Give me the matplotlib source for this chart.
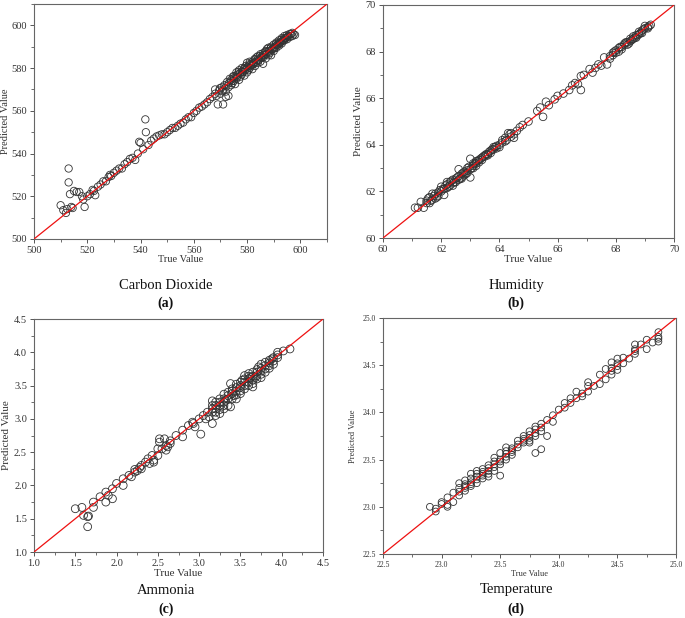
import matplotlib
matplotlib.use("Agg")
import matplotlib.pyplot as plt
from matplotlib.ticker import MultipleLocator
import numpy as np

plt.rcParams['font.family'] = ['Liberation Serif', 'DejaVu Serif']

# (true, predicted) pairs
co2_pairs = [
    (510, 515.8), (511, 513.5), (512, 512.2), (512.5, 514), (513, 533), (513, 526.5),
    (513.5, 521), (514, 515), (514.5, 514.5), (515, 522.5), (516, 522), (517, 522),
    (518, 520), (518.5, 518.5), (519, 515), (520, 520), (521, 521), (522, 523),
    (522.5, 522.5), (523, 520.5), (524, 524.5), (525, 525.5), (526, 527), (527, 527),
    (528, 529), (528.5, 530), (529, 529.5), (530, 531), (531, 532), (532, 533),
    (533, 533), (534, 535), (535, 536), (536, 537.5), (537, 538), (538, 537),
    (539, 540), (539.5, 545.5), (540, 545), (541, 542), (541.8, 556), (542, 550),
    (543, 544), (544, 546), (545, 547), (546, 548), (547, 548.5), (548, 549),
    (549, 549), (550, 550), (551, 551), (552, 552), (553, 552), (554, 553),
    (555, 554), (556, 554.5), (557, 556), (558, 557), (559, 557), (560, 559),
    (561, 560), (562, 561.5), (563, 562), (564, 563), (565, 564), (566, 565.5),
    (567, 566.5), (568, 568), (568, 570), (568.5, 567), (569, 563), (569.5, 569.5),
    (570, 568), (570.5, 571), (571, 563), (571, 570), (571.5, 572), (572, 566.5),
    (572, 569), (572.5, 573.5), (573, 567), (573, 571), (573.5, 575), (574, 572),
    (574.5, 573), (575, 576), (575, 574), (575.5, 572.5), (576, 578), (576, 575),
    (576.5, 577), (577, 579), (577, 574.5), (577.5, 576), (578, 580), (578, 577),
    (578.5, 578), (579, 576.5), (579, 580), (579.5, 581), (580, 578), (580, 582.5),
    (580.5, 579), (581, 580), (581, 583), (581.5, 581), (582, 579.5), (582, 583),
    (582.5, 582), (583, 584), (583, 581), (583.5, 585), (584, 582.5), (584, 585.5),
    (584.5, 584), (585, 583), (585, 586.5), (585.5, 585), (586, 587), (586, 582),
    (586.5, 586), (587, 588), (587, 584.5), (587.5, 589), (588, 586), (588, 589.5),
    (588.5, 587), (589, 590), (589, 586), (589.5, 589), (590, 591), (590, 588),
    (590.5, 590), (591, 592), (591, 589.5), (591.5, 591), (592, 593), (592, 590.5),
    (592.5, 592), (593, 594), (593, 591.5), (593.5, 593), (594, 595), (594, 593),
    (594.5, 594), (595, 595.5), (595, 593.5), (595.5, 595), (596, 596), (596, 594.5),
    (596.5, 596), (597, 596.5), (597, 595), (597.5, 595.8), (598, 595.5),
    (574, 574.5), (576, 576.5), (578, 578.5), (580, 580.5), (582, 581.5), (584, 584),
    (586, 585), (588, 588), (590, 589.5), (592, 592), (594, 594),
    (572.2, 571.5), (573.2, 573), (574.2, 573.8), (575.2, 575.3), (576.2, 575.8), (577.2, 577.5),
    (578.2, 578.1), (579.2, 579), (580.2, 579.8), (581.2, 581.5), (582.2, 582.3), (583.2, 582.8),
    (584.2, 583.5), (585.2, 584.8), (586.2, 586.3), (587.2, 586.5), (588.2, 587.6), (589.2, 588.5),
    (590.2, 589.2), (591.2, 590.8), (592.2, 591.5), (593.2, 592.6), (594.2, 593.8), (595.2, 594.6),
    (574.8, 576.2), (576.8, 578.2), (578.8, 579.6), (580.8, 581.8), (582.8, 584.2), (584.8, 585.6),
    (586.8, 587.6), (588.8, 589.2), (590.8, 591.3), (592.8, 593.2), (570.8, 569.2), (569.8, 570.6),
]

humidity_pairs = [
    (61.1, 61.3), (61.2, 61.3), (61.3, 61.55), (61.4, 61.3), (61.5, 61.5), (61.6, 61.75),
    (61.7, 61.9), (61.8, 61.7), (61.9, 61.95), (62.0, 62.2), (62.1, 61.85), (62.2, 62.3),
    (62.3, 62.4), (62.4, 62.35), (62.5, 62.55), (62.6, 62.95), (62.6, 62.5), (62.7, 62.6),
    (62.8, 62.85), (62.9, 62.9), (63.0, 63.4), (63.0, 62.6), (63.1, 63.1), (63.2, 63.2),
    (63.3, 63.35), (63.4, 63.45), (63.5, 63.5), (63.6, 63.6), (63.7, 63.75), (63.8, 63.8),
    (63.9, 63.85), (64.0, 64.0), (64.1, 64.1), (64.2, 64.3), (64.3, 64.5), (64.4, 64.35),
    (64.5, 64.45), (64.6, 64.6), (64.7, 64.75), (64.8, 64.85), (65.0, 65.0), (65.3, 65.45),
    (65.4, 65.6), (65.5, 65.2), (65.6, 65.85), (65.7, 65.7), (65.9, 65.95), (66.0, 66.1),
    (66.2, 66.2), (66.4, 66.35), (66.5, 66.55), (66.6, 66.65), (66.7, 66.6), (66.8, 66.35),
    (66.8, 66.95), (66.9, 67.0), (67.1, 67.25), (67.2, 67.1), (67.3, 67.3), (67.4, 67.45),
    (67.5, 67.4), (67.6, 67.75), (67.7, 67.45), (67.8, 67.8), (67.9, 67.95), (68.0, 68.05),
    (68.1, 68.0), (68.2, 68.2), (68.3, 68.3), (68.4, 68.4), (68.5, 68.45), (68.6, 68.55),
    (68.7, 68.6), (68.8, 68.75), (68.9, 68.9), (69.0, 69.0), (69.1, 69.05), (69.2, 69.15),
    (61.5, 61.6), (61.6, 61.5), (61.7, 61.65), (61.8, 61.9), (61.9, 61.8), (62.0, 62.0),
    (62.1, 62.1), (62.2, 62.15), (62.3, 62.25), (62.4, 62.5), (62.5, 62.4), (62.6, 62.65),
    (62.7, 62.75), (62.8, 62.7), (62.9, 63.0), (63.0, 62.95), (63.1, 63.0), (63.2, 63.3),
    (63.3, 63.25), (63.4, 63.35), (63.5, 63.55), (63.6, 63.55), (63.7, 63.65), (63.8, 63.9),
    (63.9, 63.95), (64.0, 63.9), (64.1, 64.2), (64.2, 64.15), (64.4, 64.5), (64.5, 64.3),
    (67.8, 67.7), (67.9, 67.85), (68.0, 67.95), (68.1, 68.15), (68.2, 68.1), (68.3, 68.35),
    (68.4, 68.3), (68.5, 68.55), (68.6, 68.65), (68.7, 68.7), (68.8, 68.85), (68.9, 68.8),
    (69.0, 69.1), (69.1, 69.0), (62.2, 62.4), (62.4, 62.25), (62.7, 62.55), (62.9, 62.8),
    (63.2, 63.1), (63.1, 63.2),
    (61.55, 61.7), (61.65, 61.6), (61.75, 61.8), (61.85, 61.75), (61.95, 62.05), (62.05, 62.1),
    (62.15, 62.25), (62.25, 62.2), (62.35, 62.45), (62.45, 62.4), (62.55, 62.6), (62.65, 62.55),
    (62.75, 62.8), (62.85, 62.75), (62.95, 63.05), (63.05, 63.0), (63.15, 63.2), (63.25, 63.3),
    (63.35, 63.4), (63.45, 63.5), (63.55, 63.6), (63.65, 63.7), (63.75, 63.8), (63.85, 63.9),
    (64.25, 64.2), (64.35, 64.45), (68.15, 68.2), (68.35, 68.4), (68.55, 68.5), (68.75, 68.7),
    (68.95, 68.95), (69.15, 69.1), (67.95, 68.0), (68.45, 68.35), (68.65, 68.6), (68.85, 68.8),
]

ammonia_pairs = [
    (1.5, 1.65), (1.58, 1.67), (1.6, 1.55), (1.65, 1.53), (1.66, 1.54), (1.65, 1.38),
    (1.72, 1.75), (1.72, 1.67), (1.8, 1.83), (1.87, 1.9), (1.87, 1.75), (1.9, 1.85),
    (1.95, 1.8), (1.95, 1.95), (2.0, 2.03), (2.08, 2.0), (2.08, 2.1), (2.15, 2.15),
    (2.18, 2.13), (2.22, 2.2), (2.25, 2.22), (2.3, 2.3), (2.3, 2.25), (2.35, 2.35),
    (2.38, 2.4), (2.43, 2.45), (2.45, 2.35), (2.45, 2.38), (2.5, 2.45), (2.5, 2.55),
    (2.52, 2.7), (2.52, 2.65), (2.55, 2.55), (2.58, 2.7), (2.6, 2.6), (2.6, 2.53),
    (2.65, 2.63), (2.65, 2.67), (2.72, 2.75), (2.8, 2.83), (2.8, 2.73), (2.87, 2.9),
    (2.93, 2.93), (2.95, 2.88), (3.0, 3.0), (3.02, 2.77), (3.05, 3.05), (3.1, 3.1),
    (3.12, 3.03), (3.16, 2.93), (3.16, 3.1), (3.16, 3.2), (3.16, 3.27), (3.2, 3.05),
    (3.2, 3.15), (3.2, 3.25), (3.25, 3.08), (3.25, 3.2), (3.25, 3.3), (3.3, 3.15),
    (3.3, 3.25), (3.3, 3.37), (3.35, 3.2), (3.35, 3.3), (3.35, 3.4), (3.38, 3.53),
    (3.38, 3.18), (3.4, 3.3), (3.4, 3.38), (3.45, 3.3), (3.45, 3.42), (3.45, 3.52),
    (3.5, 3.38), (3.5, 3.47), (3.5, 3.55), (3.55, 3.45), (3.55, 3.55), (3.55, 3.65),
    (3.6, 3.5), (3.6, 3.6), (3.6, 3.68), (3.65, 3.48), (3.65, 3.58), (3.65, 3.7),
    (3.7, 3.6), (3.7, 3.7), (3.72, 3.78), (3.75, 3.62), (3.75, 3.72), (3.75, 3.82),
    (3.8, 3.75), (3.8, 3.85), (3.85, 3.8), (3.85, 3.88), (3.9, 3.82), (3.9, 3.92),
    (3.95, 3.92), (3.95, 4.0), (4.02, 4.02), (4.1, 4.05),
    (3.2, 3.2), (3.25, 3.25), (3.3, 3.3), (3.4, 3.45), (3.45, 3.47), (3.5, 3.5),
    (3.55, 3.5), (3.6, 3.55), (3.65, 3.64), (3.7, 3.65), (3.75, 3.76), (3.8, 3.8),
    (3.85, 3.84), (3.88, 3.9), (3.62, 3.62), (3.52, 3.58), (3.42, 3.35), (3.32, 3.28),
    (3.16, 3.15), (3.2, 3.1), (3.25, 3.14), (3.3, 3.2), (3.35, 3.35), (3.4, 3.42),
    (3.45, 3.36), (3.5, 3.42), (3.55, 3.6), (3.6, 3.64), (3.65, 3.53), (3.7, 3.74),
    (3.75, 3.67), (3.8, 3.7), (3.85, 3.76), (3.9, 3.87), (3.95, 3.96), (3.68, 3.62),
    (2.22, 2.24), (2.28, 2.27), (2.4, 2.33), (2.62, 2.58), (2.92, 2.95), (3.08, 3.0),
]

temperature_pairs = [
    (22.9, 23.0), (22.95, 22.98), (22.95, 22.95), (23.0, 23.03), (23.0, 23.05), (23.05, 23.0),
    (23.05, 23.1), (23.05, 23.02), (23.1, 23.05), (23.1, 23.15), (23.15, 23.12), (23.15, 23.2),
    (23.15, 23.25), (23.2, 23.17), (23.2, 23.22), (23.2, 23.28), (23.25, 23.22), (23.25, 23.3),
    (23.25, 23.35), (23.3, 23.25), (23.3, 23.32), (23.3, 23.38), (23.35, 23.3), (23.35, 23.35),
    (23.35, 23.4), (23.4, 23.32), (23.4, 23.38), (23.4, 23.44), (23.45, 23.38), (23.45, 23.45),
    (23.45, 23.52), (23.5, 23.33), (23.5, 23.45), (23.5, 23.5), (23.5, 23.57), (23.55, 23.5),
    (23.55, 23.56), (23.55, 23.63), (23.6, 23.55), (23.6, 23.6), (23.65, 23.63), (23.65, 23.7),
    (23.7, 23.68), (23.7, 23.72), (23.75, 23.68), (23.75, 23.73), (23.75, 23.8), (23.8, 23.57),
    (23.8, 23.75), (23.8, 23.85), (23.85, 23.61), (23.85, 23.8), (23.85, 23.88), (23.9, 23.75),
    (23.9, 23.92), (23.95, 23.9), (23.95, 23.97), (24.0, 24.03), (24.05, 24.05), (24.05, 24.1),
    (24.1, 24.1), (24.1, 24.15), (24.15, 24.22), (24.15, 24.15), (24.2, 24.17), (24.2, 24.2),
    (24.25, 24.22), (24.25, 24.28), (24.25, 24.32), (24.3, 24.28), (24.35, 24.3), (24.35, 24.4),
    (24.4, 24.35), (24.4, 24.46), (24.45, 24.4), (24.45, 24.47), (24.45, 24.53), (24.5, 24.45),
    (24.5, 24.52), (24.5, 24.57), (24.55, 24.52), (24.55, 24.58), (24.6, 24.57), (24.65, 24.62),
    (24.65, 24.67), (24.65, 24.72), (24.7, 24.72), (24.75, 24.67), (24.75, 24.77), (24.8, 24.74),
    (24.85, 24.75), (24.85, 24.8), (24.85, 24.85),
    (23.2, 23.2), (23.25, 23.26), (23.3, 23.29), (23.35, 23.37), (23.4, 23.41), (23.45, 23.42),
    (23.55, 23.53), (23.6, 23.62), (23.7, 23.7), (23.75, 23.76), (23.8, 23.78), (23.65, 23.66),
    (23.15, 23.16), (23.2, 23.24), (23.25, 23.24), (23.3, 23.35), (23.35, 23.33), (23.4, 23.35),
    (23.45, 23.48), (23.5, 23.48), (23.55, 23.59), (23.6, 23.58), (23.7, 23.75), (23.75, 23.7),
    (23.8, 23.82), (23.85, 23.84), (24.45, 24.44), (24.5, 24.49), (24.65, 24.65), (24.85, 24.78),
]

titles = ["Carbon Dioxide", "Humidity", "Ammonia", "Temperature"]
letters = ["(a)", "(b)", "(c)", "(d)"]

W, H = 685, 618
fig = plt.figure(figsize=(W / 100, H / 100), dpi=100)

# axes boxes in pixels: left, top, right, bottom
boxes = [(34, 4, 327, 239), (383, 5, 674, 238), (34, 319, 323, 552), (383, 318, 676, 554)]
limits = [(500, 610), (60, 70), (1.0, 4.5), (22.5, 25.0)]
majors = [20, 2, 0.5, 0.5]
minors = [10, 1, 0.25, 0.25]
tick_fmt = ["{:.0f}", "{:.0f}", "{:.1f}", "{:.1f}"]
tick_size = [7.5, 7.5, 7.5, 5.5]
label_size = [7.5, 8, 8, 6]
marker_size = [28, 30, 32, 24]
ylabel_x = [6, 358, 7, 353]
xlabel_y = [260, 260, 573, 574]
title_y = [286, 286, 590, 590]
letter_y = [303, 303, 609, 609]
title_x = [166, 516, 166, 516]

datasets = [co2_pairs, humidity_pairs, ammonia_pairs, temperature_pairs]

for i, pairs in enumerate(datasets):
    l, t, r, b = boxes[i]
    ax = fig.add_axes([l / W, 1 - b / H, (r - l) / W, (b - t) / H])
    pts = np.array(pairs)
    lo, hi = limits[i]
    ax.scatter(pts[:, 0], pts[:, 1], s=marker_size[i], facecolors='none',
               edgecolors='#333333', linewidths=0.6, zorder=2)
    ax.plot([lo, hi], [lo, hi], color='#ee1111', lw=0.9, zorder=3)
    ax.set_xlim(lo, hi)
    ax.set_ylim(lo, hi)
    ax.xaxis.set_major_locator(MultipleLocator(majors[i]))
    ax.yaxis.set_major_locator(MultipleLocator(majors[i]))
    ax.xaxis.set_minor_locator(MultipleLocator(minors[i]))
    ax.yaxis.set_minor_locator(MultipleLocator(minors[i]))
    fmt = tick_fmt[i]
    ax.xaxis.set_major_formatter(plt.FuncFormatter(lambda v, p, f=fmt: f.format(v)))
    ax.yaxis.set_major_formatter(plt.FuncFormatter(lambda v, p, f=fmt: f.format(v)))
    ax.tick_params(which='major', direction='out', length=3, width=0.7,
                   colors='#555555', labelcolor='#333333', labelsize=tick_size[i], pad=2)
    ax.tick_params(which='minor', direction='out', length=2, width=0.6, colors='#555555')
    for sp in ax.spines.values():
        sp.set_color('#666666')
        sp.set_linewidth(0.8)

    cx = (l + r) / 2
    fig.text(cx / W, 1 - xlabel_y[i] / H, "True Value", ha='center', va='center',
             fontsize=label_size[i], color='#333333')
    fig.text(ylabel_x[i] / W, 1 - (t + b) / 2 / H, "Predicted Value", ha='center',
             va='center', rotation=90, fontsize=label_size[i], color='#333333')
    fig.text(title_x[i] / W, 1 - title_y[i] / H, titles[i], ha='center', va='center',
             fontsize=10.5, color='#111111')
    fig.text(title_x[i] / W, 1 - letter_y[i] / H, letters[i], ha='center', va='center',
             fontsize=10, fontweight='bold', color='#111111')

fig.savefig("out.png", dpi=100)
